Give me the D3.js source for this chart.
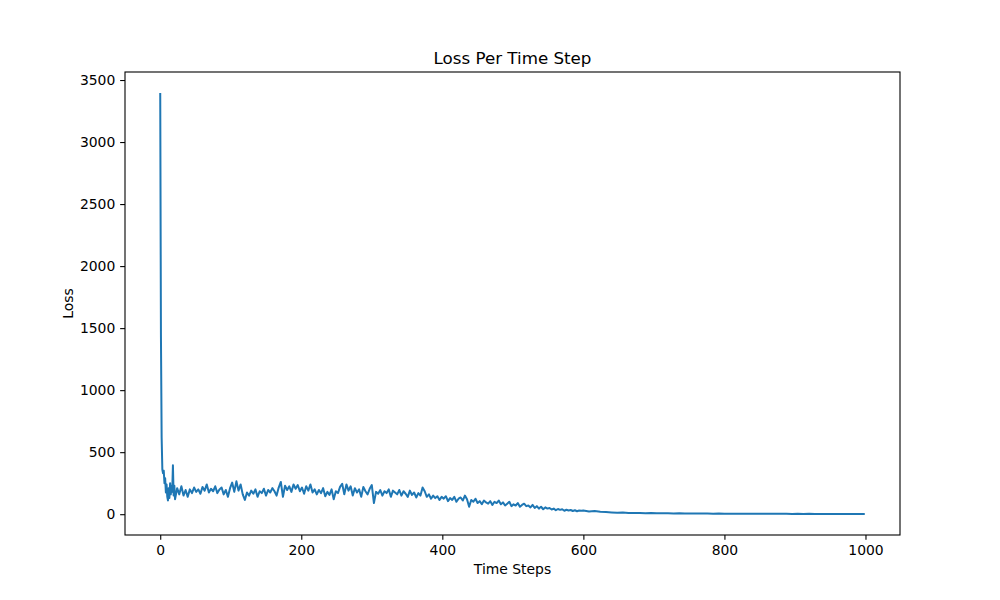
<!DOCTYPE html>
<html>
<head>
<meta charset="utf-8">
<script src="https://cdn.jsdelivr.net/npm/d3@7"></script>
<style>
  body { margin: 0; background: #fff; }
  text { font-family: "DejaVu Sans", sans-serif; fill: #000; }
</style>
</head>
<body>
<div class="chart"></div>
<script>
// loss for steps 0..20 (one per step)
const lossEarly = [3395, 1450, 620, 360, 330, 350, 250, 290, 175, 240, 140,
    110, 210, 130, 250, 160, 230, 180, 395, 150, 230];
// loss for steps 21..597, every 3rd step
const lossMid = [
    120, 210, 160, 225, 150, 195, 140, 200, 170,
    215, 180, 200, 165, 220, 190, 240, 175,
    205, 185, 225, 170, 200, 215, 160, 195, 140, 210,
    255, 180, 265, 190, 240, 160, 115, 175, 150, 190,
    165, 200, 140, 185, 170, 205, 150, 195, 175, 210,
    185, 150, 215, 260, 140, 230, 195, 225, 180, 240,
    205, 235, 185, 215, 165, 225, 190, 240, 175, 200,
    160, 195, 170, 210, 145, 180, 155, 200, 120, 185,
    170, 220, 245, 160, 240, 190, 225, 150, 210, 175,
    200, 140, 220, 185, 160, 205, 235, 90, 180, 165,
    195, 150, 185, 170, 200, 140, 190, 175, 160, 195,
    150, 185, 165, 140, 190, 155, 175, 135, 170, 150,
    215, 185, 140, 160, 125, 150, 130, 145, 115, 140,
    125, 145, 105, 130, 115, 140, 100, 125, 135, 110,
    150, 120, 60, 115, 100, 125, 90, 105, 80, 110,
    95, 85, 105, 75, 100, 90, 110, 80, 95, 70,
    85, 100, 65, 80, 70, 90, 60, 75, 85, 65,
    70, 55, 75, 50, 65, 45, 60, 40, 55, 45,
    50, 38, 45, 32, 42, 35, 40, 28, 36, 30,
    34, 26, 32, 24, 30, 27
];
// loss for steps 600..992 every 8th step, then step 999
const lossLate = [
    30, 22, 26, 20, 17, 14, 12, 13, 10, 9,
    10, 8, 9, 7, 8, 7, 6, 7, 6, 5,
    6, 5, 5, 4, 5, 4, 4, 4, 3, 4,
    3, 3, 4, 3, 3, 3, 3, 2, 3, 2,
    3, 2, 2, 2, 2, 2, 2, 2, 2, 2,
    2
];
const xTicks = [0, 200, 400, 600, 800, 1000];
const yTicks = [0, 500, 1000, 1500, 2000, 2500, 3000, 3500];

const steps = [...d3.range(0, 21), ...d3.range(21, 600, 3), ...d3.range(600, 1000, 8), 999];
const loss = [...lossEarly, ...lossMid, ...lossLate];
const data = steps.map((s, i) => ({ step: s, loss: loss[i] })).filter(d => d.loss !== undefined);

const w = 1000, h = 600;
const mLeft = 125, mRight = 900, mTop = 72, mBottom = 535;
const tick = 4.86, fs = 13.9;

const xMin = d3.min(data, d => d.step), xMax = d3.max(data, d => d.step);
const yMin = d3.min(data, d => d.loss), yMax = d3.max(data, d => d.loss);
const xPad = (xMax - xMin) * 0.05, yPad = (yMax - yMin) * 0.05;

const x = d3.scaleLinear().domain([xMin - xPad, xMax + xPad]).range([mLeft, mRight]);
const y = d3.scaleLinear().domain([yMin - yPad, yMax + yPad]).range([mBottom, mTop]);

const svg = d3.select(".chart").append("svg")
    .attr("width", w)
    .attr("height", h);

svg.append("path")
    .datum(data)
    .attr("fill", "none")
    .attr("stroke", "#1f77b4")
    .attr("stroke-width", 2)
    .attr("stroke-linejoin", "round")
    .attr("d", d3.line().x(d => x(d.step)).y(d => y(d.loss)));

const xAxis = svg.append("g")
    .attr("transform", `translate(0, ${mBottom})`)
    .call(d3.axisBottom(x).tickValues(xTicks).tickFormat(d3.format("d"))
        .tickSize(tick).tickPadding(4.86).tickSizeOuter(0));
const yAxis = svg.append("g")
    .attr("transform", `translate(${mLeft}, 0)`)
    .call(d3.axisLeft(y).tickValues(yTicks).tickFormat(d3.format("d"))
        .tickSize(tick).tickPadding(4.86).tickSizeOuter(0));

[xAxis, yAxis].forEach(g => {
    g.select(".domain").remove();
    g.selectAll(".tick line").attr("stroke", "#000").attr("stroke-width", 1.1);
    g.selectAll(".tick text")
        .style("font-family", "DejaVu Sans")
        .style("font-size", fs + "px")
        .attr("fill", "#000");
});

svg.append("rect")
    .attr("x", mLeft).attr("y", mTop)
    .attr("width", mRight - mLeft).attr("height", mBottom - mTop)
    .attr("fill", "none")
    .attr("stroke", "#000")
    .attr("stroke-width", 1.1);

svg.append("text")
    .attr("x", (mLeft + mRight) / 2).attr("y", 64)
    .attr("text-anchor", "middle")
    .style("font-size", "16.7px")
    .text("Loss Per Time Step");

svg.append("text")
    .attr("x", (mLeft + mRight) / 2).attr("y", 574)
    .attr("text-anchor", "middle")
    .style("font-size", fs + "px")
    .text("Time Steps");

svg.append("text")
    .attr("transform", `translate(73, ${(mTop + mBottom) / 2}) rotate(-90)`)
    .attr("text-anchor", "middle")
    .style("font-size", fs + "px")
    .text("Loss");
</script>
</body>
</html>
